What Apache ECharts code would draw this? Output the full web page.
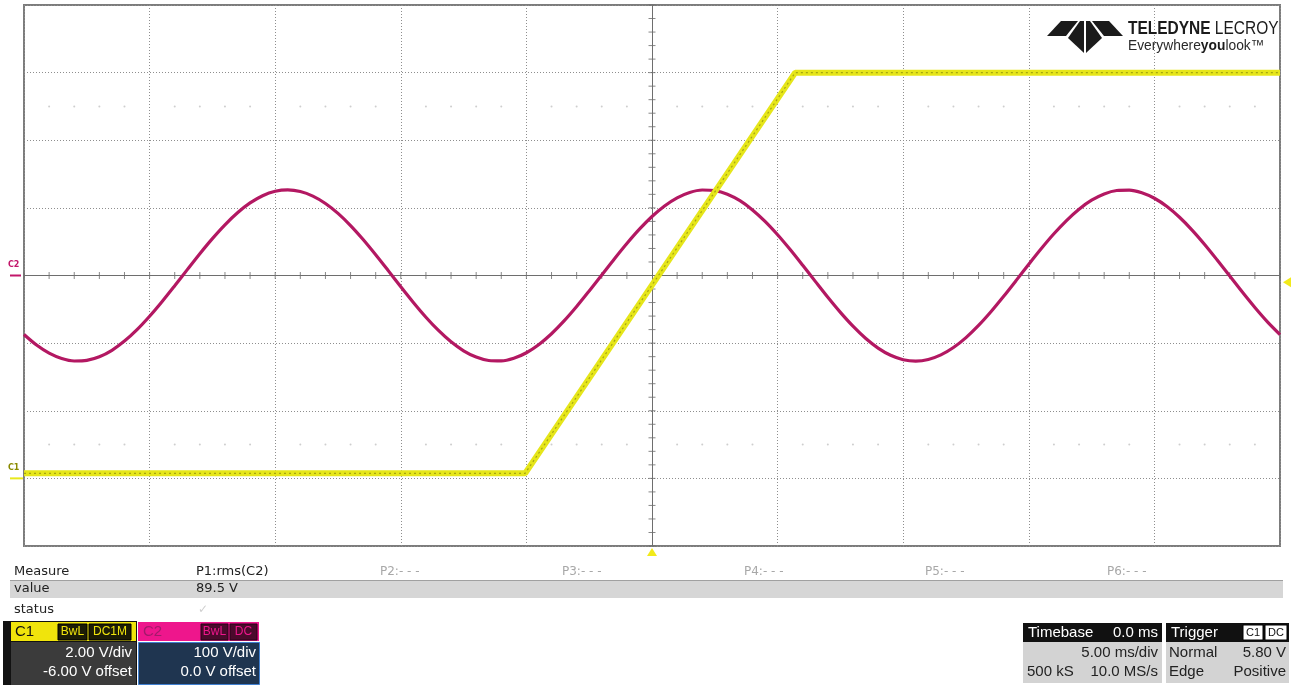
<!DOCTYPE html>
<html>
<head>
<meta charset="utf-8">
<title>Scope capture</title>
<script src="https://cdn.jsdelivr.net/npm/echarts@6/dist/echarts.min.js"></script>
<style>
  html, body { margin: 0; padding: 0; background: #ffffff; }
  #chart { width: 1297px; height: 685px; }
</style>
</head>
<body>
<div id="chart"></div>
<script>
// Time axis: 5 ms/div, 10 divisions centred on the trigger, sampled every 0.5 ms
const timeMs = [-25,-24.5,-24,-23.5,-23,-22.5,-22,-21.5,-21,-20.5,-20,-19.5,-19,-18.5,-18,-17.5,-17,-16.5,-16,-15.5,
  -15,-14.5,-14,-13.5,-13,-12.5,-12,-11.5,-11,-10.5,-10,-9.5,-9,-8.5,-8,-7.5,-7,-6.5,-6,-5.5,
  -5,-4.5,-4,-3.5,-3,-2.5,-2,-1.5,-1,-0.5,0,0.5,1,1.5,2,2.5,3,3.5,4,4.5,
  5,5.5,6,6.5,7,7.5,8,8.5,9,9.5,10,10.5,11,11.5,12,12.5,13,13.5,14,14.5,
  15,15.5,16,16.5,17,17.5,18,18.5,19,19.5,20,20.5,21,21.5,22,22.5,23,23.5,24,24.5,25];

// C2: mains voltage, 100 V/div
const c2Volts = [-87.3,-102.9,-114.9,-122.8,-126.4,-125.5,-120.2,-110.6,-97.0,-80.1,-60.3,-38.4,-15.1,8.7,32.3,54.6,75.0,92.8,107.3,118.0,
  124.5,126.6,124.2,117.4,106.5,91.8,73.8,53.2,30.7,7.2,-16.7,-39.9,-61.7,-81.3,-98.1,-111.3,-120.6,-125.7,-126.3,-122.4,
  -114.2,-102.0,-86.1,-67.2,-45.9,-22.9,0.8,24.5,47.3,68.5,87.3,102.9,114.9,122.8,126.4,125.5,120.2,110.6,97.0,80.1,
  60.3,38.4,15.1,-8.7,-32.3,-54.6,-75.0,-92.8,-107.3,-118.0,-124.5,-126.6,-124.2,-117.4,-106.5,-91.8,-73.8,-53.2,-30.7,-7.2,
  16.7,39.9,61.7,81.3,98.1,111.3,120.6,125.7,126.3,122.4,114.2,102.0,86.1,67.2,45.9,22.9,-0.8,-24.5,-47.3,-68.5,-87.3];

// C1: ramp, 2 V/div with -6 V offset
const c1TimeMs = [-25, -5.05, 5.7, 25];
const c1Volts = [0.15, 0.15, 12.0, 12.0];

// Vertical scales of the two channels
const c2Range = [-400, 400, 100];
const c1Range = [-2, 14, 2];
const triggerLevel = 5.8;

// Measurement and setup readouts
const measureHeads = ['P1:rms(C2)', 'P2:- - -', 'P3:- - -', 'P4:- - -', 'P5:- - -', 'P6:- - -'];
const measureValue = '89.5 V';
const c1Setup = ['2.00 V/div', '-6.00 V offset'];
const c2Setup = ['100 V/div', '0.0 V offset'];
const timebaseText = ['0.0 ms', '5.00 ms/div', '500 kS', '10.0 MS/s'];
const triggerText = ['Normal', '5.80 V', 'Edge', 'Positive'];

const chart = echarts.init(document.getElementById('chart'), null, { renderer: 'canvas' });

// crosshair ticks every 1/5 division
const xTicks = [];
for (let t = -25; t <= 25; t += 1) if (t !== 0) xTicks.push([t, 0]);
const yTicks = [];
for (let v = -400; v <= 400; v += 20) if (v !== 0) yTicks.push([0, v]);
// faint dot rows at +/- 2.5 divisions
const dotRows = [];
for (let t = -24; t <= 24; t += 1) {
  if (t % 5 === 0) continue;
  dotRows.push([t, 250]);
  dotRows.push([t, -250]);
}

const c2Data = timeMs.map((t, i) => [t, c2Volts[i]]);
const c1Data = c1TimeMs.map((t, i) => [t, c1Volts[i]]);

const dotted = { type: [1, 2], color: '#8e8e8e', width: 1 };

chart.setOption({
  animation: false,
  backgroundColor: '#ffffff',
  grid: { left: 24, top: 5, width: 1256, height: 541, show: true, borderColor: '#7c7c7c', borderWidth: 2, backgroundColor: '#ffffff' },
  xAxis: {
    type: 'value', min: -25, max: 25, interval: 5,
    axisLine: { show: false }, axisTick: { show: false }, axisLabel: { show: false },
    splitLine: { show: true, lineStyle: dotted }
  },
  yAxis: [
    {
      type: 'value', min: c2Range[0], max: c2Range[1], interval: c2Range[2],
      axisLine: { show: false }, axisTick: { show: false }, axisLabel: { show: false },
      splitLine: { show: true, lineStyle: dotted }
    },
    {
      type: 'value', min: c1Range[0], max: c1Range[1], interval: c1Range[2], show: false,
      splitLine: { show: false }
    }
  ],
  series: [
    {
      type: 'scatter', data: dotRows, symbol: 'circle', symbolSize: 2, silent: true,
      itemStyle: { color: '#c2c2c2' }, z: 1
    },
    {
      type: 'scatter', data: xTicks, symbol: 'rect', symbolSize: [1, 7], silent: true,
      itemStyle: { color: '#6a6a6a' }, z: 2,
      markLine: {
        silent: true, symbol: 'none', label: { show: false },
        lineStyle: { type: 'solid', color: '#6e6e6e', width: 1 },
        data: [{ xAxis: 0 }, { yAxis: 0 }]
      }
    },
    {
      type: 'scatter', data: yTicks, symbol: 'rect', symbolSize: [7, 1], silent: true,
      itemStyle: { color: '#6a6a6a' }, z: 2
    },
    {
      name: 'C2', type: 'line', data: c2Data, yAxisIndex: 0, smooth: 0.3, symbol: 'none',
      lineStyle: { color: '#b31862', width: 3.2 }, z: 5
    },
    {
      name: 'C1', type: 'line', data: c1Data, yAxisIndex: 1, symbol: 'none',
      lineStyle: { color: '#e6e61a', width: 6 }, z: 6
    },
    {
      name: 'C1 noise', type: 'line', data: c1Data, yAxisIndex: 1, symbol: 'none',
      lineStyle: { color: '#8f8f10', width: 1.2, type: [2, 3], opacity: 0.75 }, z: 7
    }
  ]
});

// channel / trigger markers positioned from the axis scales
const gnd2 = chart.convertToPixel({ xAxisIndex: 0, yAxisIndex: 0 }, [0, 0]);
const gnd1 = chart.convertToPixel({ xAxisIndex: 0, yAxisIndex: 1 }, [0, 0]);
const trig = chart.convertToPixel({ xAxisIndex: 0, yAxisIndex: 1 }, [0, triggerLevel]);
const rightX = chart.convertToPixel({ xAxisIndex: 0 }, 25);
const bottomY = chart.convertToPixel({ yAxisIndex: 0 }, -400);

const FONT = '"DejaVu Sans", sans-serif';
const ARIAL = '"Liberation Sans", Arial, sans-serif';

function text(x, y, s, fill, font, align) {
  return {
    type: 'text', silent: true, z: 100,
    style: { text: s, x: x, y: y, fill: fill, font: font, align: align || 'left', verticalAlign: 'middle' }
  };
}
function rect(x, y, w, h, fill, stroke, lw) {
  return {
    type: 'rect', silent: true, z: 90,
    shape: { x: x, y: y, width: w, height: h },
    style: { fill: fill, stroke: stroke || null, lineWidth: lw || 0 }
  };
}

const g = [];

// left-edge channel markers
g.push({ type: 'line', silent: true, z: 100, shape: { x1: 10, y1: gnd2[1], x2: 21, y2: gnd2[1] }, style: { stroke: '#c2166a', lineWidth: 2 } });
g.push(text(8, gnd2[1] - 11, 'C2', '#c2166a', 'bold 8px ' + FONT));
g.push({ type: 'line', silent: true, z: 100, shape: { x1: 10, y1: gnd1[1], x2: 23, y2: gnd1[1] }, style: { stroke: '#e8e81c', lineWidth: 2 } });
g.push(text(8, gnd1[1] - 10, 'C1', '#8a8a00', 'bold 8px ' + FONT));

// trigger level and trigger position markers
g.push({ type: 'polygon', silent: true, z: 100, shape: { points: [[rightX + 3, trig[1]], [rightX + 11, trig[1] - 5], [rightX + 11, trig[1] + 5]] }, style: { fill: '#f2ea1a' } });
g.push({ type: 'polygon', silent: true, z: 100, shape: { points: [[gnd2[0], bottomY + 2], [gnd2[0] - 5, bottomY + 10], [gnd2[0] + 5, bottomY + 10]] }, style: { fill: '#f2ea1a' } });

// logo
g.push({ type: 'polygon', silent: true, z: 100, shape: { points: [[1061, 21], [1078, 21], [1066, 36], [1047, 36]] }, style: { fill: '#1b1b1b' } });
g.push({ type: 'polygon', silent: true, z: 100, shape: { points: [[1092, 21], [1109, 21], [1123, 36], [1104, 36]] }, style: { fill: '#1b1b1b' } });
g.push({ type: 'polygon', silent: true, z: 100, shape: { points: [[1080, 21], [1084, 21], [1084, 53], [1068, 38]] }, style: { fill: '#1b1b1b' } });
g.push({ type: 'polygon', silent: true, z: 100, shape: { points: [[1086, 21], [1090, 21], [1102, 38], [1086, 53]] }, style: { fill: '#1b1b1b' } });
g.push({
  type: 'text', silent: true, z: 100, x: 1128, y: 29, scaleX: 0.86,
  style: {
    text: '{b|TELEDYNE} LECROY', x: 0, y: 0, fill: '#1b1b1b', font: '18px ' + ARIAL, verticalAlign: 'middle',
    rich: { b: { fontWeight: 'bold', fontSize: 18, fontFamily: ARIAL, fill: '#1b1b1b' } }
  }
});
g.push({
  type: 'text', silent: true, z: 100, x: 1128, y: 46, scaleX: 0.92,
  style: {
    text: 'Everywhere{b|you}look\u2122', x: 0, y: 0, fill: '#2a2a2a', font: '15px ' + ARIAL, verticalAlign: 'middle',
    rich: { b: { fontWeight: 'bold', fontSize: 15, fontFamily: ARIAL, fill: '#1b1b1b' } }
  }
});

// measurement table
g.push(rect(10, 580, 1273, 1, '#a0a0a0'));
g.push(rect(10, 581, 1273, 17, '#d6d6d6'));
g.push(text(14, 572, 'Measure', '#222', '13px ' + FONT));
g.push(text(14, 589, 'value', '#222', '13px ' + FONT));
g.push(text(14, 610, 'status', '#222', '13px ' + FONT));
const headX = [196, 380, 562, 744, 925, 1107];
measureHeads.forEach((h, i) => {
  g.push(text(headX[i], 572, h, i === 0 ? '#222' : '#a8a8a8', (i === 0 ? '13px ' : '12px ') + FONT));
});
g.push(text(196, 589, measureValue, '#222', '13px ' + FONT));
g.push(text(198, 610, '\u2713', '#cfcfcf', '12px ' + FONT));

// C1 setup box
g.push(rect(3, 621, 134, 64, '#121212'));
g.push(rect(11, 622, 125, 19, '#f0e40c'));
g.push(text(15, 632, 'C1', '#111', '15px ' + ARIAL));
g.push(rect(58, 624, 29, 16, '#1c1c06', '#000', 1));
g.push(text(72.5, 632, 'BwL', '#f0e40c', '12px ' + ARIAL, 'center'));
g.push(rect(89, 624, 42, 16, '#1c1c06', '#000', 1));
g.push(text(110, 632, 'DC1M', '#f0e40c', '12px ' + ARIAL, 'center'));
g.push(rect(11, 642, 125, 43, '#3b3b3b'));
g.push(text(132, 653, c1Setup[0], '#ffffff', '15px ' + ARIAL, 'right'));
g.push(text(132, 672, c1Setup[1], '#ffffff', '15px ' + ARIAL, 'right'));

// C2 setup box
g.push(rect(138, 622, 121, 19, '#ee168c'));
g.push(text(143, 632, 'C2', '#a31a6c', '15px ' + ARIAL));
g.push(rect(201, 624, 27, 16, '#4a0a2c', '#2a0018', 1));
g.push(text(214.5, 632, 'BwL', '#ee168c', '12px ' + ARIAL, 'center'));
g.push(rect(230, 624, 27, 16, '#4a0a2c', '#2a0018', 1));
g.push(text(243.5, 632, 'DC', '#ee168c', '12px ' + ARIAL, 'center'));
g.push(rect(138.5, 642.5, 121, 42, '#1f3550', '#3f7fd0', 1));
g.push(text(256, 653, c2Setup[0], '#ffffff', '15px ' + ARIAL, 'right'));
g.push(text(256, 672, c2Setup[1], '#ffffff', '15px ' + ARIAL, 'right'));

// timebase box
g.push(rect(1023, 623, 139, 19, '#111111'));
g.push(rect(1023, 642, 139, 41, '#d3d3d3'));
g.push(text(1028, 633, 'Timebase', '#ffffff', '15px ' + ARIAL));
g.push(text(1158, 633, timebaseText[0], '#ffffff', '15px ' + ARIAL, 'right'));
g.push(text(1158, 653, timebaseText[1], '#222', '15px ' + ARIAL, 'right'));
g.push(text(1027, 672, timebaseText[2], '#222', '15px ' + ARIAL));
g.push(text(1158, 672, timebaseText[3], '#222', '15px ' + ARIAL, 'right'));

// trigger box
g.push(rect(1166, 623, 123, 19, '#111111'));
g.push(rect(1166, 642, 123, 41, '#d3d3d3'));
g.push(text(1171, 633, 'Trigger', '#ffffff', '15px ' + ARIAL));
g.push(rect(1243, 625, 20, 15, '#ffffff', '#000', 1));
g.push(text(1253, 633, 'C1', '#111', '11px ' + ARIAL, 'center'));
g.push(rect(1265, 625, 22, 15, '#ffffff', '#000', 1));
g.push(text(1276, 633, 'DC', '#111', '11px ' + ARIAL, 'center'));
g.push(text(1169, 653, triggerText[0], '#222', '15px ' + ARIAL));
g.push(text(1286, 653, triggerText[1], '#222', '15px ' + ARIAL, 'right'));
g.push(text(1169, 672, triggerText[2], '#222', '15px ' + ARIAL));
g.push(text(1286, 672, triggerText[3], '#222', '15px ' + ARIAL, 'right'));

chart.setOption({ graphic: g });
</script>
</body>
</html>
